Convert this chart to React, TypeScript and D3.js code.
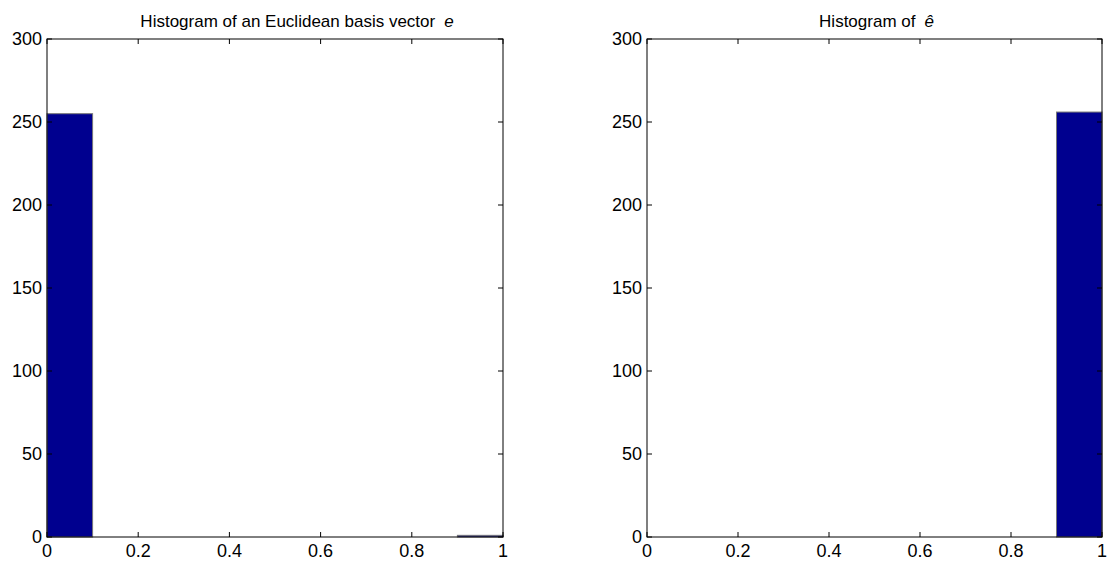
import React from "react";
import * as d3 from "d3";

const binCenters = [0.05, 0.15, 0.25, 0.35, 0.45, 0.55, 0.65, 0.75, 0.85, 0.95];
const countsE = [255, 0, 0, 0, 0, 0, 0, 0, 0, 1];
const countsEHat = [0, 0, 0, 0, 0, 0, 0, 0, 0, 256];
const xTicks = [0, 0.2, 0.4, 0.6, 0.8, 1];
const xTickLabels = ["0", "0.2", "0.4", "0.6", "0.8", "1"];
const yTicks = [0, 50, 100, 150, 200, 250, 300];
const titleE = "Histogram of an Euclidean basis vector";
const titleEHat = "Histogram of";

const FONT = "'Liberation Sans', Arial, Helvetica, sans-serif";

function Panel({ left, right, top, bottom, counts, title, sym, titleShift }: any) {
  const x = d3.scaleLinear().domain([0, 1]).range([left, right]);
  const y = d3.scaleLinear().domain([0, 300]).range([bottom, top]);
  const binW = 0.1;
  const tl = 5;
  return (
    <g>
      {counts.map((c: number, i: number) =>
        c > 0 ? (
          <rect
            key={i}
            x={x(binCenters[i] - binW / 2)}
            y={y(c)}
            width={x(binCenters[i] + binW / 2) - x(binCenters[i] - binW / 2)}
            height={y(0) - y(c)}
            fill="#00008F"
            stroke="#777"
            strokeWidth={1}
          />
        ) : null
      )}
      <rect x={left} y={top} width={right - left} height={bottom - top} fill="none" stroke="#000" strokeWidth={1} />
      {xTicks.map((t, i) => (
        <g key={"x" + i}>
          <line x1={x(t)} x2={x(t)} y1={bottom} y2={bottom - tl} stroke="#000" />
          <line x1={x(t)} x2={x(t)} y1={top} y2={top + tl} stroke="#000" />
          <text x={x(t)} y={bottom + 20} textAnchor="middle" fontSize={18} fontFamily={FONT} fill="#000">
            {xTickLabels[i]}
          </text>
        </g>
      ))}
      {yTicks.map((t, i) => (
        <g key={"y" + i}>
          <line x1={left} x2={left + tl} y1={y(t)} y2={y(t)} stroke="#000" />
          <line x1={right} x2={right - tl} y1={y(t)} y2={y(t)} stroke="#000" />
          <text x={left - 5} y={y(t) + 6} textAnchor="end" fontSize={18} fontFamily={FONT} fill="#000">
            {t}
          </text>
        </g>
      ))}
      <text x={(left + right) / 2 + titleShift} y={27} textAnchor="middle" fontSize={17} fontFamily={FONT} fill="#000">
        {title}
        <tspan fontStyle="italic" dx={9}>{sym}</tspan>
      </text>
    </g>
  );
}

export default function App() {
  const top = 39;
  const bottom = 537;
  return (
    <svg width={1108} height={565} style={{ position: "absolute", left: 0, top: 0, background: "#fff" }}>
      <rect x={0} y={0} width={1108} height={565} fill="#fff" />
      <Panel left={47} right={503} top={top} bottom={bottom} counts={countsE} title={titleE} sym="e" titleShift={22} />
      <Panel left={647} right={1102} top={top} bottom={bottom} counts={countsEHat} title={titleEHat} sym="ê" titleShift={2} />
    </svg>
  );
}
